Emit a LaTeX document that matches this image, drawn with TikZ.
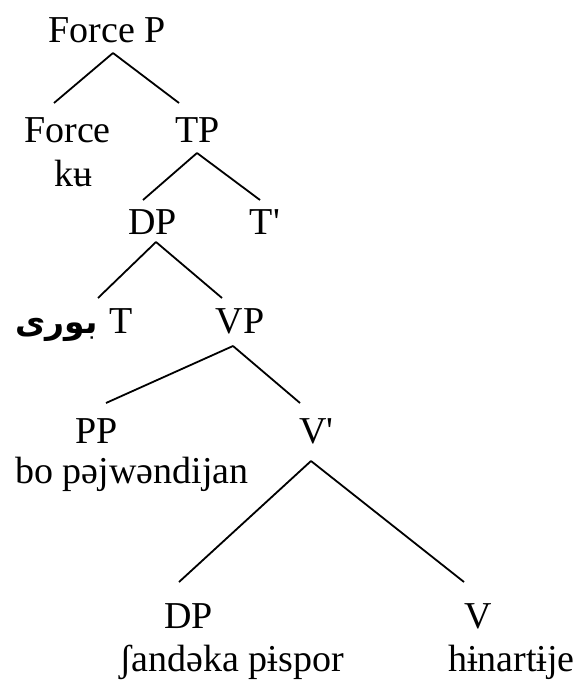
\documentclass[tikz,border=0pt]{standalone}
\usepackage{fontspec}
\setmainfont{Liberation Serif}[Ligatures=TeXOff]
\newfontfamily\arabicfont[Script=Arabic]{DejaVu Sans}
\TeXXeTstate=1
\usetikzlibrary{positioning}
\tikzset{
  lbl/.style={anchor=base, inner sep=0pt, font=\fontsize{38}{44}\selectfont},
  branch/.style={line width=1.8pt}
}
\begin{document}
\begin{tikzpicture}[x=1pt,y=-1pt]
\useasboundingbox (0,0) rectangle (579,684);
\node[lbl] (fp) at (107,43) {Force P};
\node[lbl] (force) at (67.5,143) {Force};
\node[lbl] (ku) at (73.5,187) {kʉ};
\node[lbl] (tp) at (197.5,143) {TP};
\node[lbl] (dpa) at (152.5,235) {DP};
\node[lbl] (tbar) at (265,235) {T'};
\node[lbl] (t) at (121,333) {T};
\node[lbl, base left=11pt of t, font=\fontsize{33}{40}\arabicfont\bfseries] (bori) {\beginR بوری\endR};
\node[lbl] (vp) at (240,333) {VP};
\node[lbl] (pp) at (97,443) {PP};
\node[lbl] (bo) at (132,483) {bo pəjwəndijan};
\node[lbl] (vbar) at (316.5,443) {V'};
\node[lbl] (dpb) at (188.5,628) {DP};
\node[lbl] (sa) at (231.5,671) {ʃandəka pɨspor};
\node[lbl] (v) at (478.5,628) {V};
\node[lbl] (hi) at (511.5,671) {hɨnartɨje};

\draw[branch] ([shift={(6,10)}]fp.base) -- ([shift={(-13.5,-40)}]force.base);
\draw[branch] ([shift={(6,10)}]fp.base) -- ([shift={(-18.5,-40)}]tp.base);
\draw[branch] ([shift={(-0.5,10)}]tp.base) -- ([shift={(-9.5,-35)}]dpa.base);
\draw[branch] ([shift={(-0.5,10)}]tp.base) -- ([shift={(-5,-35)}]tbar.base);
\draw[branch] ([shift={(3.5,7)}]dpa.base) -- ([shift={(-23,-35)}]t.base);
\draw[branch] ([shift={(3.5,7)}]dpa.base) -- ([shift={(-18,-35)}]vp.base);
\draw[branch] ([shift={(-7,13)}]vp.base) -- ([shift={(9,-40)}]pp.base);
\draw[branch] ([shift={(-7,13)}]vp.base) -- ([shift={(-16.5,-40)}]vbar.base);
\draw[branch] ([shift={(-5.5,18)}]vbar.base) -- ([shift={(-9.5,-46)}]dpb.base);
\draw[branch] ([shift={(-5.5,18)}]vbar.base) -- ([shift={(-14.5,-46)}]v.base);
\end{tikzpicture}
\end{document}
